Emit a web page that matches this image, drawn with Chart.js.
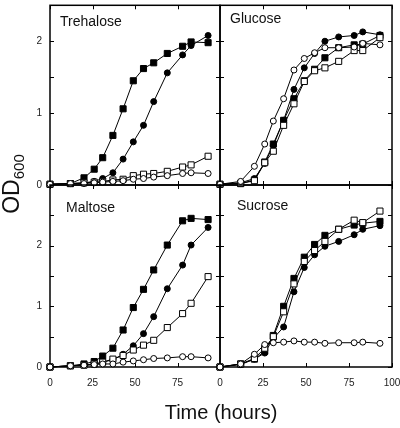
<!DOCTYPE html>
<html>
<head>
<meta charset="utf-8">
<script src="https://cdn.jsdelivr.net/npm/chart.js@4.4.1/dist/chart.umd.min.js"></script>
<style>
  body { margin: 0; background: #fff; }
  #wrap { position: relative; width: 400px; height: 428px; overflow: hidden; font-family: "Liberation Sans", Arial, sans-serif; color: #111; }
  canvas { position: absolute; left: 0; top: 0; }
  .ttl { position: absolute; font-size: 14px; white-space: nowrap; line-height: 1; }
  #xlab { position: absolute; left: 0; width: 442px; top: 402px; text-align: center; font-size: 20px; line-height: 1; }
  #ylab { position: absolute; left: -27px; top: 171px; width: 80px; text-align: center; font-size: 23px; line-height: 1; transform: rotate(-90deg); white-space: nowrap; }
  #ylab sub { font-size: 15px; vertical-align: -5px; }
</style>
</head>
<body>
<div id="wrap">
  <canvas id="treCanvas" width="400" height="428"></canvas>
  <canvas id="gluCanvas" width="400" height="428"></canvas>
  <canvas id="malCanvas" width="400" height="428"></canvas>
  <canvas id="sucCanvas" width="400" height="428"></canvas>
  <div class="ttl" style="left:60px;top:14px">Trehalose</div>
  <div class="ttl" style="left:230px;top:11px">Glucose</div>
  <div class="ttl" style="left:66px;top:200px">Maltose</div>
  <div class="ttl" style="left:237px;top:198px">Sucrose</div>
  <div id="xlab">Time (hours)</div>
  <div id="ylab">OD<sub>600</sub></div>
</div>
<script>
// sampling times (hours)
const times = [0, 12, 20, 26, 31, 37, 43, 49, 55, 61, 69, 78, 83, 93];

// Trehalose
const treFilledSq = [0.01, 0.02, 0.10, 0.22, 0.38, 0.69, 1.06, 1.45, 1.62, 1.70, 1.83, 1.93, 1.99, 1.98];
const treFilledCi = [0.01, 0.02, 0.03, 0.05, 0.09, 0.17, 0.36, 0.60, 0.83, 1.16, 1.56, 1.81, 1.94, 2.08];
const treOpenSq   = [0.01, 0.02, 0.03, 0.04, 0.05, 0.07, 0.08, 0.13, 0.15, 0.16, 0.19, 0.25, 0.28, 0.40];
const treOpenCi   = [0.01, 0.02, 0.02, 0.03, 0.04, 0.05, 0.06, 0.08, 0.09, 0.11, 0.13, 0.16, 0.17, 0.16];

// Glucose
const gluFilledSq = [0.01, 0.02, 0.07, 0.32, 0.57, 0.90, 1.20, 1.45, 1.61, 1.77, 1.91, 1.95, 1.96, 2.08];
const gluFilledCi = [0.01, 0.03, 0.09, 0.30, 0.55, 0.90, 1.33, 1.63, 1.83, 2.00, 2.06, 2.08, 2.13, 2.09];
const gluOpenSq   = [0.01, 0.02, 0.06, 0.31, 0.47, 0.83, 1.13, 1.44, 1.59, 1.63, 1.72, 1.87, 1.87, 2.05];
const gluOpenCi   = [0.01, 0.05, 0.26, 0.57, 0.89, 1.20, 1.60, 1.76, 1.84, 1.91, 1.91, 1.92, 1.97, 1.95];

// Maltose
const malFilledSq = [0.00, 0.02, 0.05, 0.09, 0.18, 0.31, 0.61, 0.98, 1.28, 1.60, 2.01, 2.41, 2.45, 2.43];
const malFilledCi = [0.00, 0.02, 0.03, 0.04, 0.08, 0.12, 0.21, 0.35, 0.55, 0.83, 1.29, 1.68, 2.01, 2.30];
const malOpenSq   = [0.00, 0.02, 0.03, 0.05, 0.08, 0.13, 0.19, 0.28, 0.36, 0.44, 0.65, 0.88, 1.05, 1.49];
const malOpenCi   = [0.00, 0.02, 0.03, 0.04, 0.05, 0.05, 0.08, 0.10, 0.12, 0.14, 0.15, 0.17, 0.17, 0.15];

// Sucrose
const sucFilledSq = [0.00, 0.05, 0.13, 0.26, 0.52, 1.00, 1.46, 1.81, 2.02, 2.17, 2.27, 2.34, 2.37, 2.40];
const sucFilledCi = [0.00, 0.04, 0.13, 0.23, 0.47, 0.66, 1.24, 1.64, 1.85, 1.99, 2.07, 2.18, 2.27, 2.33];
const sucOpenSq   = [0.00, 0.05, 0.14, 0.31, 0.50, 0.91, 1.37, 1.74, 1.92, 2.07, 2.27, 2.42, 2.38, 2.57];
const sucOpenCi   = [0.00, 0.05, 0.21, 0.37, 0.40, 0.41, 0.43, 0.41, 0.41, 0.39, 0.40, 0.40, 0.41, 0.39];

const tickFont = { family: "Liberation Sans", size: 10 };

// box + inward ticks on all four sides
const framePlugin = {
  id: "frame",
  beforeDatasetsDraw(chart) {
    const { ctx, chartArea: a, scales } = chart;
    ctx.save();
    ctx.strokeStyle = "#000";
    ctx.lineWidth = 1.5;
    ctx.strokeRect(a.left, a.top, a.right - a.left, a.bottom - a.top);
    ctx.lineWidth = 1;
    ctx.beginPath();
    scales.x.ticks.forEach(t => {
      const px = Math.round(scales.x.getPixelForValue(t.value)) + 0.5;
      ctx.moveTo(px, a.bottom); ctx.lineTo(px, a.bottom - 4);
      ctx.moveTo(px, a.top); ctx.lineTo(px, a.top + 4);
    });
    scales.y.ticks.forEach(t => {
      const py = Math.round(scales.y.getPixelForValue(t.value)) + 0.5;
      ctx.moveTo(a.left, py); ctx.lineTo(a.left + 4, py);
      ctx.moveTo(a.right, py); ctx.lineTo(a.right - 4, py);
    });
    ctx.stroke();
    ctx.restore();
  }
};

function series(vals, filled, shape) {
  return {
    data: times.map((t, i) => ({ x: t, y: vals[i] })),
    borderColor: "#000",
    borderWidth: 1,
    pointStyle: shape,
    pointRadius: shape === "rect" ? 4.3 : 3,
    pointBorderWidth: 1,
    pointBorderColor: "#000",
    pointBackgroundColor: filled ? "#000" : "#fff",
    tension: 0,
    clip: false
  };
}

function makePanel(id, box, yMax, sets, showX, showY, hideLastX) {
  new Chart(document.getElementById(id), {
    type: "line",
    data: {
      datasets: [
        series(sets[3], false, "circle"),
        series(sets[2], false, "rect"),
        series(sets[1], true, "circle"),
        series(sets[0], true, "rect")
      ]
    },
    options: {
      responsive: false,
      animation: false,
      events: [],
      layout: { padding: { left: box.left - 30, top: box.top, right: 400 - box.right, bottom: 428 - box.bottom - 24 } },
      plugins: { legend: { display: false }, tooltip: { enabled: false } },
      scales: {
        x: {
          type: "linear", min: 0, max: 100,
          grid: { display: false, drawTicks: false },
          border: { display: false },
          ticks: {
            display: showX, stepSize: 25, padding: 10, font: tickFont, color: "#222",
            callback: v => (hideLastX && v === 100) ? "" : v
          },
          afterFit: s => { s.height = 24; s.paddingLeft = 0; s.paddingRight = 0; }
        },
        y: {
          min: 0, max: yMax,
          grid: { display: false, drawTicks: false },
          border: { display: false },
          ticks: {
            display: showY, stepSize: 0.5, padding: 8, font: tickFont, color: "#222",
            callback: v => (Number.isInteger(v) && v < yMax) ? v : ""
          },
          afterFit: s => { s.width = 30; s.paddingTop = 0; s.paddingBottom = 0; }
        }
      }
    },
    plugins: [framePlugin]
  });
}

makePanel("treCanvas", { left: 50, top: 3, right: 220, bottom: 185 }, 2.5,
  [treFilledSq, treFilledCi, treOpenSq, treOpenCi], false, true, false);
makePanel("gluCanvas", { left: 220, top: 3, right: 392, bottom: 185 }, 2.5,
  [gluFilledSq, gluFilledCi, gluOpenSq, gluOpenCi], false, false, false);
makePanel("malCanvas", { left: 50, top: 185, right: 220, bottom: 367 }, 3,
  [malFilledSq, malFilledCi, malOpenSq, malOpenCi], true, true, true);
makePanel("sucCanvas", { left: 220, top: 185, right: 392, bottom: 367 }, 3,
  [sucFilledSq, sucFilledCi, sucOpenSq, sucOpenCi], true, false, false);
</script>
</body>
</html>
